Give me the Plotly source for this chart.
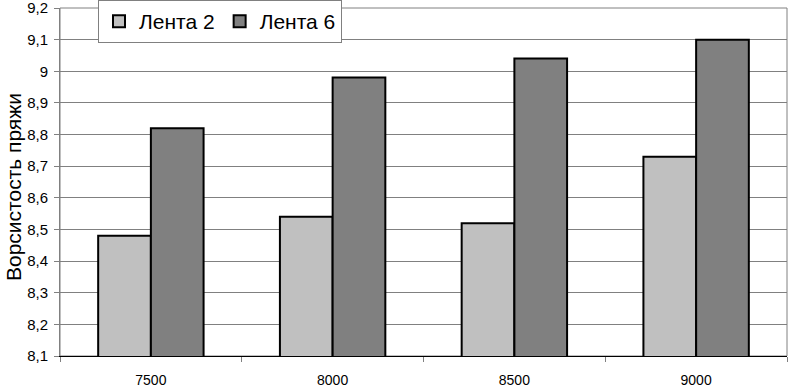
import plotly.graph_objects as go

categories = ["7500", "8000", "8500", "9000"]
lenta2 = [8.48, 8.54, 8.52, 8.73]
lenta6 = [8.82, 8.98, 9.04, 9.10]
y_ticks = [8.1, 8.2, 8.3, 8.4, 8.5, 8.6, 8.7, 8.8, 8.9, 9.0, 9.1, 9.2]
y_tick_labels = ["8,1", "8,2", "8,3", "8,4", "8,5", "8,6", "8,7", "8,8", "8,9", "9", "9,1", "9,2"]
y_title = "Ворсистость пряжи"

FONT = "Liberation Sans, Arial, sans-serif"

fig = go.Figure()
fig.add_trace(go.Bar(name="Лента 2", x=categories, y=lenta2,
                     marker=dict(color="#c0c0c0", line=dict(color="#000000", width=2))))
fig.add_trace(go.Bar(name="Лента 6", x=categories, y=lenta6,
                     marker=dict(color="#808080", line=dict(color="#000000", width=2))))

fig.update_layout(
    width=788, height=390,
    margin=dict(l=60, r=1, t=8, b=34, autoexpand=False),
    paper_bgcolor="white", plot_bgcolor="white",
    barmode="group", bargap=0.42, bargroupgap=0,
    font=dict(family=FONT, color="#000000"),
    showlegend=True,
    legend=dict(orientation="h", x=98 / 788, y=1.0, xref="container", yref="container",
                xanchor="left", yanchor="top",
                bgcolor="white", bordercolor="#808080", borderwidth=1,
                font=dict(size=21, family=FONT), itemwidth=30,
                traceorder="normal"),
    xaxis=dict(type="category", tickson="boundaries", ticks="outside", ticklen=5,
               tickcolor="#808080", showline=True, linecolor="#000000", linewidth=1,
               tickfont=dict(size=14, family=FONT), showgrid=False,
               ticklabelstandoff=11, automargin=False),
    yaxis=dict(range=[8.1, 9.2], tickvals=y_ticks, ticktext=y_tick_labels,
               ticks="outside", ticklen=5, tickcolor="#808080",
               showline=True, linecolor="#808080", linewidth=1,
               showgrid=True, gridcolor="#808080", gridwidth=1,
               tickfont=dict(size=15, family=FONT), ticklabelstandoff=3,
               ticklabeloverflow="allow",
               zeroline=False, automargin=False),
    shapes=[dict(type="rect", xref="paper", yref="paper", x0=0, x1=1, y0=0, y1=1,
                 line=dict(color="#808080", width=1), layer="below")],
    annotations=[dict(text=y_title, textangle=-90, xref="paper", yref="paper",
                      x=(13 - 60) / 727, y=(356 - 187) / 348, xanchor="center", yanchor="middle",
                      showarrow=False, font=dict(size=21, family=FONT))],
)

fig.write_html("out.html", config={"displayModeBar": False},
               post_script="document.body.style.margin='0';")
